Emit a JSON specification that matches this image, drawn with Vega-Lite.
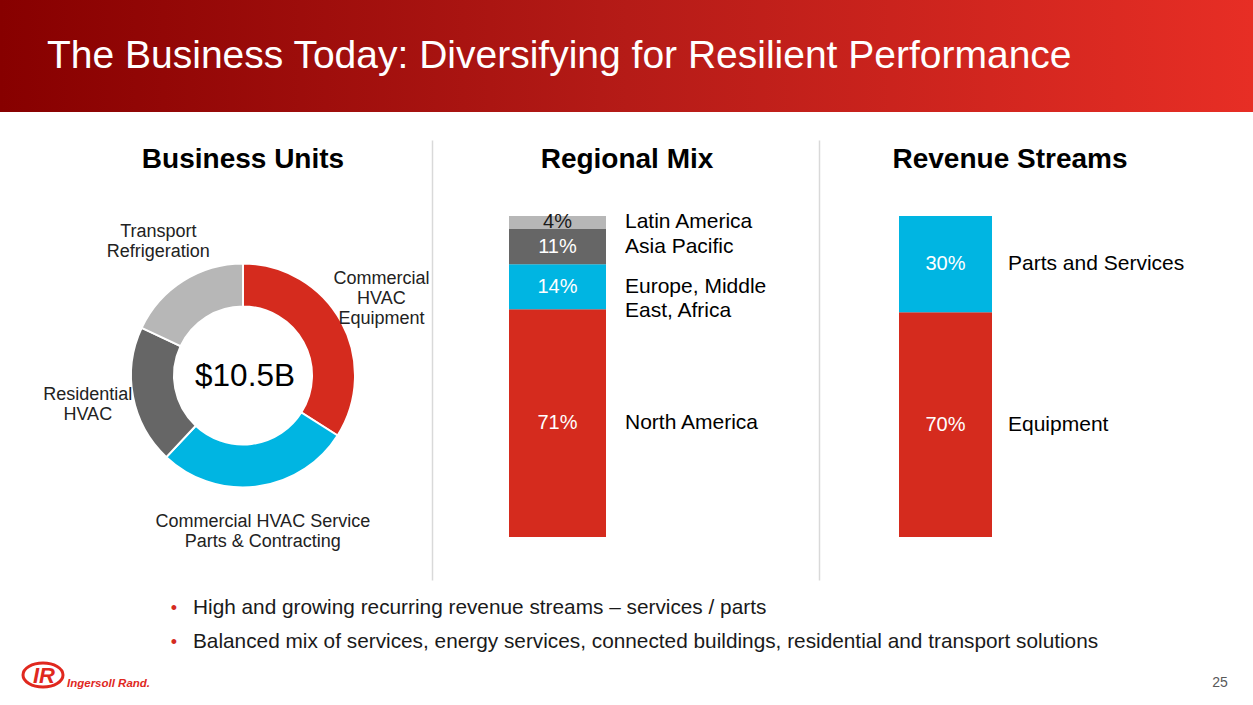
{
  "$schema": "https://vega.github.io/schema/vega-lite/v6.json",
  "padding": 0,
  "background": "white",
  "config": {
    "view": {"stroke": null},
    "font": "Liberation Sans",
    "title": {"font": "Liberation Sans", "fontSize": 28, "fontWeight": "bold", "color": "#000000", "frame": "group", "anchor": "middle", "offset": 0, "baseline": "alphabetic"}
  },
  "bounds": "flush",
  "spacing": 0,
  "vconcat": [
    {
      "width": 1253,
      "height": 112,
      "data": {"values": [{"heading": "The Business Today: Diversifying for Resilient Performance"}]},
      "layer": [
        {
          "mark": {"type": "rect", "fill": {"gradient": "linear", "x1": 0, "y1": 0, "x2": 1, "y2": 0, "stops": [{"offset": 0, "color": "#870000"}, {"offset": 0.5, "color": "#B51B17"}, {"offset": 1, "color": "#E72E25"}]}},
          "encoding": {}
        },
        {
          "mark": {"type": "text", "x": 47, "y": 68, "align": "left", "baseline": "alphabetic", "fontSize": 39, "color": "white"},
          "encoding": {"text": {"field": "heading"}}
        }
      ]
    },
    {
      "bounds": "flush",
      "spacing": 0,
      "hconcat": [
        {
          "width": 432,
          "height": 593,
          "title": {"text": "Business Units", "dx": 27, "dy": 66},
          "layer": [
            {
              "data": {"values": [
                {"unit": "Commercial\nHVAC\nEquipment", "share": 0.34},
                {"unit": "Commercial HVAC Service\nParts & Contracting", "share": 0.28},
                {"unit": "Residential\nHVAC", "share": 0.20},
                {"unit": "Transport\nRefrigeration", "share": 0.18}
              ]},
              "transform": [
                {"stack": "share", "groupby": [], "sort": [{"field": "share", "order": "descending"}], "as": ["s0", "s1"]},
                {"calculate": "(datum.s0 + datum.s1) / 2", "as": "mid"}
              ],
              "layer": [
                {
                  "mark": {"type": "arc", "innerRadius": 69, "outerRadius": 112, "stroke": "white", "strokeWidth": 2, "x": 243, "y": 263.5},
                  "encoding": {
                    "theta": {"field": "s0", "type": "quantitative", "scale": {"domain": [0, 1]}},
                    "theta2": {"field": "s1"},
                    "color": {"field": "unit", "type": "nominal", "legend": null,
                      "scale": {"domain": ["Commercial\nHVAC\nEquipment", "Commercial HVAC Service\nParts & Contracting", "Residential\nHVAC", "Transport\nRefrigeration"], "range": ["#D52B1E", "#00B5E2", "#666666", "#B7B7B7"]}}
                  }
                },
                {
                  "mark": {"type": "text", "radius": 158, "x": 243, "y": 263.5, "baseline": "middle", "fontSize": 18, "lineBreak": "\n", "lineHeight": 20, "color": "#222222",
                    "dy": {"expr": "-(length(split(datum.unit, '\\n')) - 1) * 10"}},
                  "encoding": {
                    "theta": {"field": "mid", "type": "quantitative"},
                    "text": {"field": "unit"}
                  }
                }
              ]
            },
            {
              "data": {"values": [{"total": "$10.5B"}]},
              "mark": {"type": "text", "x": 245, "y": 265, "fontSize": 31.5, "color": "#000000"},
              "encoding": {"text": {"field": "total"}}
            },
            {
              "data": {"values": [
                {"line": 1, "text": "High and growing recurring revenue streams – services / parts"},
                {"line": 2, "text": "Balanced mix of services, energy services, connected buildings, residential and transport solutions"}
              ]},
              "layer": [
                {
                  "mark": {"type": "text", "x": 193, "align": "left", "baseline": "alphabetic", "fontSize": 20.8, "color": "#1A1A1A"},
                  "encoding": {
                    "y": {"field": "line", "type": "ordinal", "scale": {"type": "point", "range": [502, 536], "padding": 0}, "axis": null},
                    "text": {"field": "text"}
                  }
                },
                {
                  "mark": {"type": "text", "x": 174, "align": "center", "baseline": "alphabetic", "fontSize": 18, "color": "#D52B1E"},
                  "encoding": {
                    "y": {"field": "line", "type": "ordinal", "axis": null},
                    "text": {"value": "•"}
                  }
                }
              ]
            },
            {
              "data": {"values": [{"initials": "IR", "brand": "Ingersoll Rand."}]},
              "layer": [
                {
                  "mark": {"type": "point", "shape": "M-1,0A1,0.6,0,1,1,1,0A1,0.6,0,1,1,-1,0Z", "size": 1600, "filled": false, "stroke": "#E0281E", "strokeWidth": 3, "opacity": 1, "x": 43, "y": 563},
                  "encoding": {}
                },
                {
                  "mark": {"type": "text", "x": 44, "y": 564, "baseline": "middle", "fontSize": 22, "fontWeight": "bold", "fontStyle": "italic", "color": "#E0281E"},
                  "encoding": {"text": {"field": "initials"}}
                },
                {
                  "mark": {"type": "text", "x": 67, "y": 575, "align": "left", "baseline": "alphabetic", "fontSize": 11.5, "fontWeight": "bold", "fontStyle": "italic", "color": "#E0281E"},
                  "encoding": {"text": {"field": "brand"}}
                }
              ]
            },
            {
              "data": {"values": [{"page": "25"}]},
              "mark": {"type": "text", "x": 1220, "y": 575, "align": "center", "baseline": "alphabetic", "fontSize": 14, "color": "#595959"},
              "encoding": {"text": {"field": "page"}}
            }
          ]
        },
        {
          "width": 387,
          "height": 593,
          "title": {"text": "Regional Mix", "dx": 1.5, "dy": 66},
          "data": {"values": [
            {"mix": "Regional", "region": "North America", "share": 0.71},
            {"mix": "Regional", "region": "Europe, Middle\nEast, Africa", "share": 0.14},
            {"mix": "Regional", "region": "Asia Pacific", "share": 0.11},
            {"mix": "Regional", "region": "Latin America", "share": 0.04}
          ]},
          "transform": [
            {"stack": "share", "groupby": [], "sort": [{"field": "share", "order": "descending"}], "as": ["s0", "s1"]},
            {"calculate": "(datum.s0 + datum.s1) / 2", "as": "mid"}
          ],
          "encoding": {
            "x": {"field": "mix", "type": "nominal", "scale": {"range": [77, 174], "paddingInner": 0, "paddingOuter": 0}, "axis": null}
          },
          "layer": [
            {
              "mark": {"type": "bar"},
              "encoding": {
                "y": {"field": "s0", "type": "quantitative", "scale": {"domain": [-0.134, 1.237], "range": [468, 28], "nice": false, "zero": false},
                  "axis": {"orient": "left", "domain": true, "domainColor": "#D9D9D9", "domainWidth": 1.5, "ticks": false, "labels": false, "grid": false, "title": null}},
                "y2": {"field": "s1"},
                "color": {"field": "region", "type": "nominal", "legend": null,
                  "scale": {"domain": ["North America", "Europe, Middle\nEast, Africa", "Asia Pacific", "Latin America"], "range": ["#D52B1E", "#00B5E2", "#666666", "#B7B7B7"]}}
              }
            },
            {
              "mark": {"type": "text", "fontSize": 20},
              "encoding": {
                "y": {"field": "mid", "type": "quantitative"},
                "text": {"field": "share", "format": ".0%"},
                "color": {"condition": {"test": "datum.share < 0.05", "value": "#1A1A1A"}, "value": "white"}
              }
            },
            {
              "mark": {"type": "text", "fontSize": 21, "align": "left", "dx": 19, "lineBreak": "\n", "lineHeight": 24, "color": "#000000"},
              "encoding": {
                "x": {"field": "mix", "type": "nominal", "bandPosition": 1},
                "y": {"field": "mid", "type": "quantitative"},
                "text": {"field": "region"}
              }
            }
          ]
        },
        {
          "width": 434,
          "height": 593,
          "title": {"text": "Revenue Streams", "dx": -26, "dy": 66},
          "data": {"values": [
            {"mix": "Revenue", "stream": "Equipment", "share": 0.70},
            {"mix": "Revenue", "stream": "Parts and Services", "share": 0.30}
          ]},
          "transform": [
            {"stack": "share", "groupby": [], "sort": [{"field": "share", "order": "descending"}], "as": ["s0", "s1"]},
            {"calculate": "(datum.s0 + datum.s1) / 2", "as": "mid"}
          ],
          "encoding": {
            "x": {"field": "mix", "type": "nominal", "scale": {"range": [80, 173], "paddingInner": 0, "paddingOuter": 0}, "axis": null}
          },
          "layer": [
            {
              "mark": {"type": "bar"},
              "encoding": {
                "y": {"field": "s0", "type": "quantitative", "scale": {"domain": [-0.134, 1.237], "range": [468, 28], "nice": false, "zero": false},
                  "axis": {"orient": "left", "domain": true, "domainColor": "#D9D9D9", "domainWidth": 1.5, "ticks": false, "labels": false, "grid": false, "title": null}},
                "y2": {"field": "s1"},
                "color": {"field": "stream", "type": "nominal", "legend": null,
                  "scale": {"domain": ["Equipment", "Parts and Services"], "range": ["#D52B1E", "#00B5E2"]}}
              }
            },
            {
              "mark": {"type": "text", "fontSize": 20, "color": "white"},
              "encoding": {
                "y": {"field": "mid", "type": "quantitative"},
                "text": {"field": "share", "format": ".0%"}
              }
            },
            {
              "mark": {"type": "text", "fontSize": 21, "align": "left", "dx": 16, "color": "#000000"},
              "encoding": {
                "x": {"field": "mix", "type": "nominal", "bandPosition": 1},
                "y": {"field": "mid", "type": "quantitative"},
                "text": {"field": "stream"}
              }
            }
          ]
        }
      ]
    }
  ]
}
